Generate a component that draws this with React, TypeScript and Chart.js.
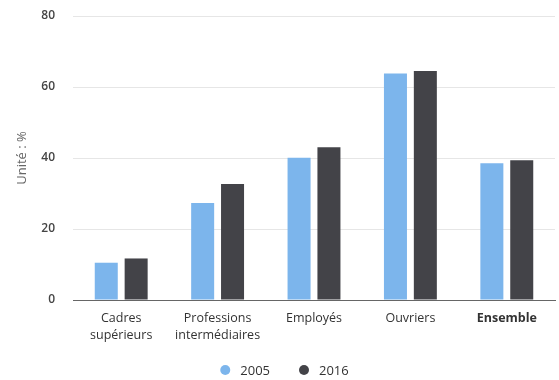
import React, { useEffect, useRef } from "react";
import { Chart, registerables } from "chart.js";

Chart.register(...registerables);

// Categories (multi-line labels) and series values, in %
const categories: string[][] = [
  ["Cadres", "supérieurs"],
  ["Professions", "intermédiaires"],
  ["Employés"],
  ["Ouvriers"],
  ["Ensemble"],
];
const series2005: number[] = [10.5, 27.3, 40.1, 63.8, 38.5];
const series2016: number[] = [11.7, 32.7, 43.0, 64.5, 39.4];
const seriesLabels: string[] = ["2005", "2016"];
const yTicks: number[] = [0, 20, 40, 60, 80];
const yTitle = "Unité : %";

const FONT = "'Open Sans', 'Noto Sans', sans-serif";

// Round-marker legend drawn along the bottom edge of the canvas
const dotLegend = {
  id: "dotLegend",
  afterDraw(chart: any) {
    const ctx = chart.ctx as CanvasRenderingContext2D;
    const items = chart.data.datasets.map((ds: any) => ({
      text: String(ds.label),
      color: String(ds.backgroundColor),
    }));
    const radius = 5;
    const gap = 10;
    const spacing = 29;
    ctx.save();
    ctx.font = `13px ${FONT}`;
    const widths = items.map((it: any) => 2 * radius + gap + ctx.measureText(it.text).width);
    const total = widths.reduce((a: number, b: number) => a + b, 0) + spacing * (items.length - 1);
    let x = chart.width / 2 + 5 - total / 2;
    const y = chart.height - 10;
    ctx.textBaseline = "middle";
    ctx.textAlign = "left";
    items.forEach((it: any, i: number) => {
      ctx.fillStyle = it.color;
      ctx.beginPath();
      ctx.arc(x + radius, y, radius, 0, Math.PI * 2);
      ctx.fill();
      ctx.fillStyle = "#333333";
      ctx.fillText(it.text, x + 2 * radius + gap, y + 1);
      x += widths[i] + spacing;
    });
    ctx.restore();
  },
};

export default function App() {
  const canvasRef = useRef<HTMLCanvasElement | null>(null);

  useEffect(() => {
    document.body.style.margin = "0";
    const canvas = canvasRef.current;
    if (!canvas) return;
    const chart = new Chart(canvas, {
      type: "bar",
      data: {
        labels: categories,
        datasets: [
          {
            label: seriesLabels[0],
            data: series2005,
            backgroundColor: "#7cb5ec",
            borderWidth: 0,
            categoryPercentage: 0.62,
            barPercentage: 0.77,
          },
          {
            label: seriesLabels[1],
            data: series2016,
            backgroundColor: "#434348",
            borderWidth: 0,
            categoryPercentage: 0.62,
            barPercentage: 0.77,
          },
        ],
      },
      plugins: [dotLegend],
      options: {
        animation: false,
        responsive: false,
        maintainAspectRatio: false,
        layout: { padding: { top: 0, right: 4, left: 8, bottom: 28 } },
        plugins: {
          tooltip: { enabled: false },
          legend: { display: false },
        },
        scales: {
          x: {
            grid: { display: false, drawTicks: false },
            border: { display: true, color: "#666666", width: 1 },
            afterFit: (axis: any) => {
              axis.height = 52;
            },
            ticks: {
              color: "#333333",
              padding: 10,
              maxRotation: 0,
              autoSkip: false,
              font: (ctx: any) => ({
                family: FONT,
                size: 12.5,
                lineHeight: 1.35,
                weight: ctx.index === 4 ? "bold" : "normal",
              }),
            },
          },
          y: {
            min: 0,
            max: 80,
            afterBuildTicks: (axis: any) => {
              axis.ticks = yTicks.map((v) => ({ value: v }));
            },
            afterFit: (axis: any) => {
              axis.width = 65;
              axis.paddingTop = 16;
              axis.paddingBottom = 8;
            },
            grid: { color: "#e6e6e6", drawTicks: false },
            border: { display: false },
            ticks: {
              color: "#444444",
              padding: 18,
              font: { family: FONT, size: 12, weight: 600 },
            },
            title: {
              display: true,
              text: yTitle,
              color: "#666666",
              padding: { top: 6, bottom: 12 },
              font: { family: FONT, size: 13 },
            },
          },
        },
      },
    });
    return () => chart.destroy();
  }, []);

  return (
    <div style={{ width: 559, height: 380 }}>
      <canvas ref={canvasRef} width={559} height={380} />
    </div>
  );
}
